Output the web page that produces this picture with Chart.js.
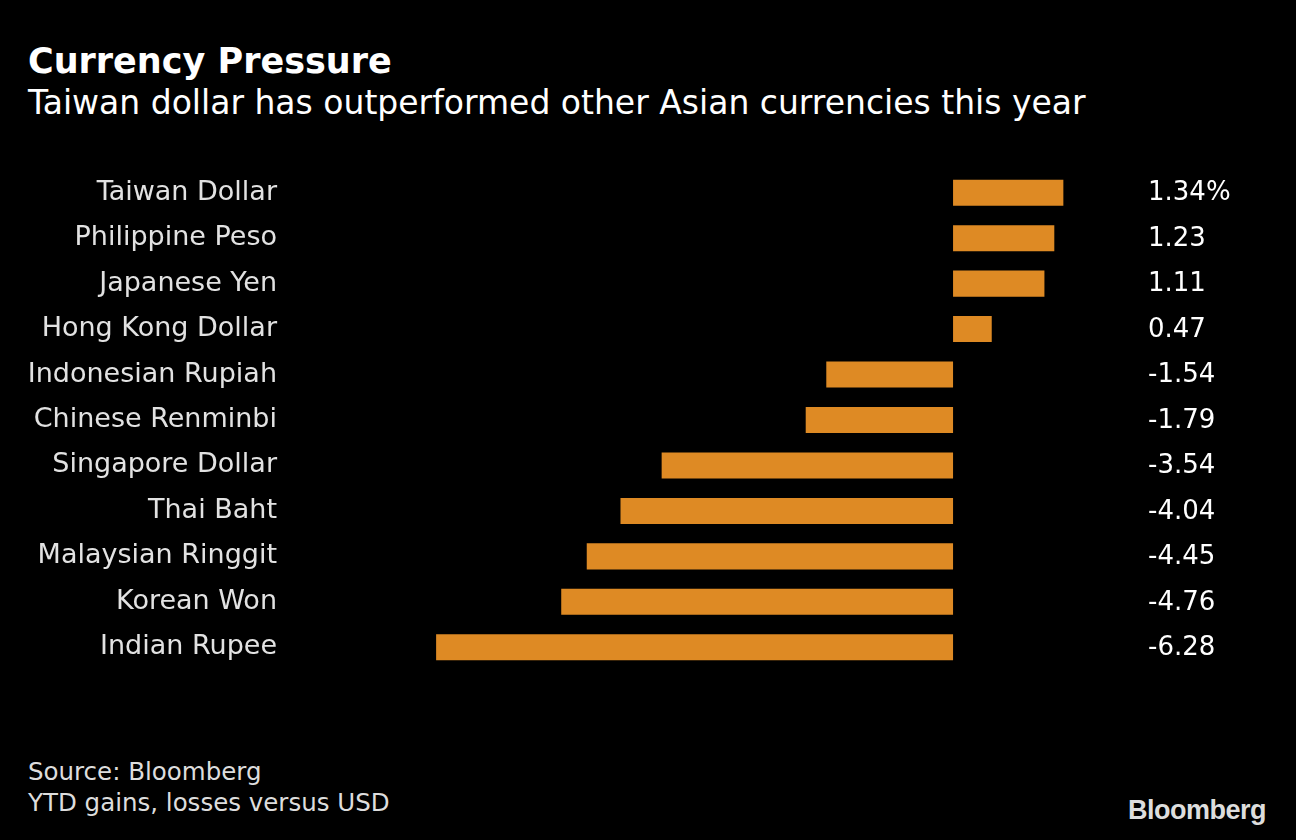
<!DOCTYPE html>
<html>
<head>
<meta charset="utf-8">
<script src="https://cdn.jsdelivr.net/npm/chart.js@4"></script>
<style>
  html, body { margin: 0; padding: 0; background: #000; }
  body { width: 1296px; height: 840px; position: relative; overflow: hidden; font-family: "DejaVu Sans", sans-serif; }
  #chart { position: absolute; left: 0; top: 0; }
  .txt { position: absolute; white-space: nowrap; }
  #title { left: 28px; top: 41px; font-size: 35px; font-weight: bold; color: #fff; }
  #subtitle { left: 28px; top: 83px; font-size: 33px; color: #fff; }
  #source { left: 28px; top: 756px; font-size: 24.5px; color: #ddd; line-height: 31px; }
  #logo { left: 1128px; top: 795px; font-family: "Liberation Sans", Arial, sans-serif; font-weight: bold; font-size: 27px; color: #ddd; letter-spacing: -0.5px; }
</style>
</head>
<body>
<div id="title" class="txt">Currency Pressure</div>
<div id="subtitle" class="txt">Taiwan dollar has outperformed other Asian currencies this year</div>
<div id="source" class="txt">Source: Bloomberg<br>YTD gains, losses versus USD</div>
<div id="logo" class="txt">Bloomberg</div>
<canvas id="chart" width="1296" height="840"></canvas>
<script>
// ------------------------------
// Data
// ------------------------------
const currencies = [
    'Taiwan Dollar', 'Philippine Peso', 'Japanese Yen', 'Hong Kong Dollar',
    'Indonesian Rupiah', 'Chinese Renminbi', 'Singapore Dollar', 'Thai Baht',
    'Malaysian Ringgit', 'Korean Won', 'Indian Rupee'
];
const ytdChange = [1.34, 1.23, 1.11, 0.47, -1.54, -1.79, -3.54, -4.04, -4.45, -4.76, -6.28];
const xMin = -6.5;
const xMax = 3.0;

const BAR_COLOR = '#de8a24';

// value labels on the right side
const valueLabels = {
    id: 'valueLabels',
    afterDatasetsDraw(chart) {
        const ctx = chart.ctx;
        const meta = chart.getDatasetMeta(0);
        ctx.save();
        ctx.fillStyle = '#ffffff';
        ctx.font = '26px "DejaVu Sans"';
        ctx.textAlign = 'left';
        ctx.textBaseline = 'middle';
        meta.data.forEach((bar, i) => {
            let txt = ytdChange[i].toFixed(2);
            if (i === 0) txt += '%';
            ctx.fillText(txt, 1148, bar.y + 1);
        });
        ctx.restore();
    }
};

const ctx = document.getElementById('chart').getContext('2d');
new Chart(ctx, {
    type: 'bar',
    data: {
        labels: currencies,
        datasets: [{
            data: ytdChange,
            backgroundColor: BAR_COLOR,
            borderWidth: 0,
            categoryPercentage: 1.0,
            barPercentage: 0.573
        }]
    },
    options: {
        indexAxis: 'y',
        responsive: false,
        animation: false,
        layout: { padding: { top: 170, bottom: 170, left: 0, right: 96 } },
        plugins: {
            legend: { display: false },
            tooltip: { enabled: false }
        },
        scales: {
            x: {
                display: false,
                min: xMin,
                max: xMax
            },
            y: {
                grid: { display: false },
                border: { display: false },
                afterFit(scale) { scale.width = 418; },
                ticks: {
                    color: '#e2e2e2',
                    padding: 133,
                    font: { family: 'DejaVu Sans', size: 27 }
                }
            }
        }
    },
    plugins: [valueLabels]
});
</script>
</body>
</html>
